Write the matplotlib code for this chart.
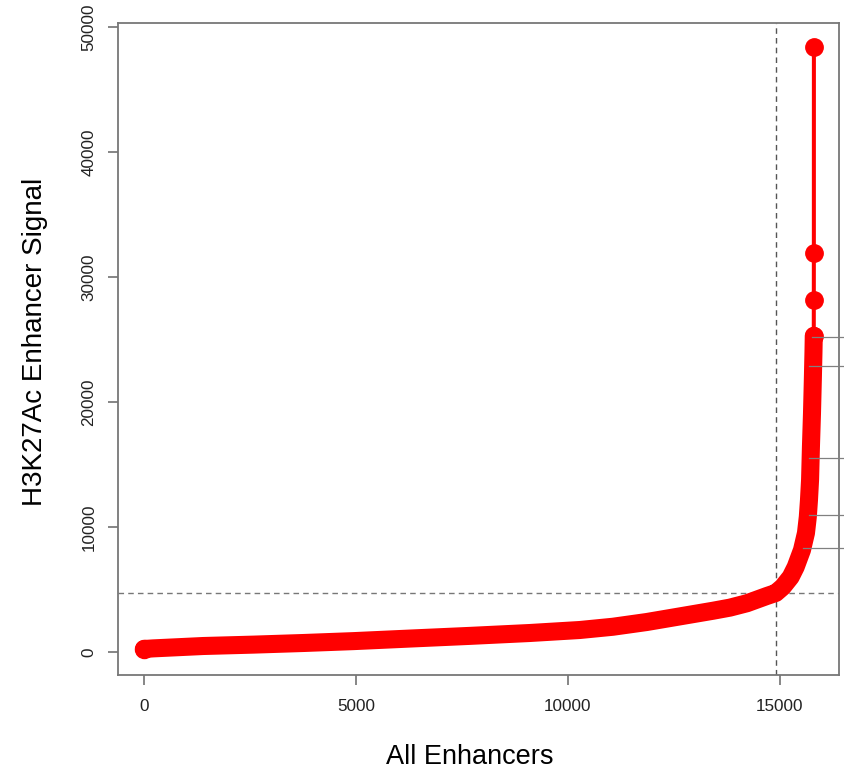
import matplotlib
matplotlib.use("Agg")
import matplotlib.pyplot as plt

# ---- data ----
dense_rank = [0, 220, 1400, 2580, 3760, 4940, 6300, 7690, 9100, 10280, 11060, 11860,
              12640, 13420, 13820, 14220, 14690, 14900, 15064, 15252, 15370, 15519,
              15613, 15656, 15684, 15710, 15730, 15755, 15775, 15790, 15797]
dense_signal = [240, 290, 480, 590, 720, 870, 1080, 1290, 1520, 1760, 2020, 2400,
                2850, 3300, 3550, 3900, 4480, 4720, 5200, 6000, 6800, 8160,
                9520, 10800, 12160, 13800, 16400, 19100, 21800, 24000, 25300]
top_rank = [15797, 15798, 15799, 15800]
top_signal = [25300, 28200, 31900, 48400]
cutoff_rank = 14906
cutoff_signal = 4720
label_rank = [15755, 15684, 15684, 15684, 15542]
label_signal = [25200, 22900, 15500, 11000, 8300]
xticks = [0, 5000, 10000, 15000]
yticks = [0, 10000, 20000, 30000, 40000, 50000]

title_font = ['Liberation Sans', 'DejaVu Sans']
tick_font = ['Liberation Sans', 'DejaVu Sans']

fig = plt.figure(figsize=(8.44, 7.71), dpi=100)
ax = fig.add_axes([118/844, 1-675/771, (839-118)/844, (675-23)/771])

ax.set_xlim(-613, 16392)
ax.set_ylim(-1840, 50320)

red = '#ff0000'
ax.plot(dense_rank, dense_signal, color=red, lw=13, solid_capstyle='round',
        solid_joinstyle='round', zorder=3)
ax.plot(top_rank, top_signal, color=red, lw=2.9, marker='o', ms=12.5, zorder=4)
ax.plot(dense_rank[:1], dense_signal[:1], color=red, marker='o', ms=13, zorder=4)

ax.axvline(cutoff_rank, color='#555555', lw=1.0, ls=(0, (4, 3)), zorder=2)
ax.axhline(cutoff_signal, color='#777777', lw=1.0, ls=(0, (4, 3)), zorder=2)

for r, s in zip(label_rank, label_signal):
    ax.plot([r, 17500], [s, s], color='#808080', lw=0.9, clip_on=False, zorder=5)

ax.set_xticks(xticks)
ax.set_yticks(yticks)
ax.set_xticklabels([str(v) for v in xticks], fontfamily=tick_font, fontsize=12.3, color='#222222')
ax.set_yticklabels([str(v) for v in yticks], fontfamily=tick_font, fontsize=12.3,
                   color='#222222', rotation=90, va='center')
ax.tick_params(axis='both', direction='out', length=7.5, width=1.1, color='#666666')
ax.tick_params(axis='x', pad=10)
ax.tick_params(axis='y', pad=8)
for sp in ax.spines.values():
    sp.set_color('#777777')
    sp.set_linewidth(1.3)

fig.text(470/844, 1-764/771, 'All Enhancers', ha='center', va='baseline',
         fontfamily=title_font, fontsize=19.5, color='black')
fig.text(35/844, 1-342/771, 'H3K27Ac Enhancer Signal', ha='center', va='center',
         rotation=90, fontfamily=title_font, fontsize=20, color='black')

fig.savefig('out.png', dpi=100)
